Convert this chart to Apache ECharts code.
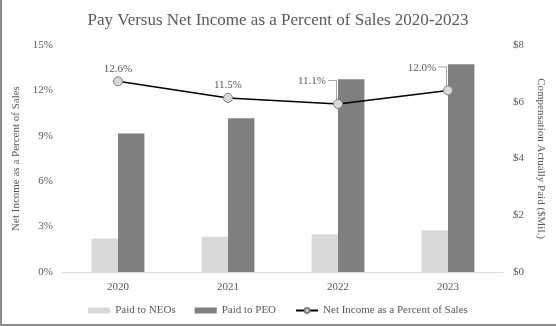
<!DOCTYPE html>
<html>
<head>
<meta charset="utf-8">
<script src="https://cdn.jsdelivr.net/npm/echarts@6/dist/echarts.min.js"></script>
<style>
  html, body { margin: 0; padding: 0; background: #fff; }
  #wrap { position: relative; width: 556px; height: 326px; }
  #chart { width: 556px; height: 326px; }
  #frame {
    position: absolute; left: 0; top: 0; width: 556px; height: 326px;
    box-sizing: border-box; border-left: 2px solid #8c8c8c; border-bottom: 2px solid #8c8c8c;
    pointer-events: none;
  }
</style>
</head>
<body>
<div id="wrap">
  <div id="chart"></div>
  <div id="frame"></div>
</div>
<script>
// 数据
const years = ['2020', '2021', '2022', '2023'];
const paidToNEOs = [1.18, 1.24, 1.33, 1.47];
const paidToPEO = [4.88, 5.42, 6.79, 7.32];
const netIncomePct = [12.6, 11.5, 11.1, 12.0];
const pctTicks = [0, 3, 6, 9, 12, 15];
const payTicks = [0, 2, 4, 6, 8];
// 带引导线的数据点（标签放在左上方）
const leaderIdx = [2, 3];

const FONT = '"Liberation Serif", "DejaVu Serif", serif';
const TEXT = '#595959';

const chart = echarts.init(document.getElementById('chart'), null, { renderer: 'canvas' });

chart.setOption({
  animation: false,
  backgroundColor: '#fff',
  textStyle: { fontFamily: FONT, color: TEXT },
  title: {
    text: 'Pay Versus Net Income as a Percent of Sales 2020-2023',
    left: 'center',
    top: 7,
    textStyle: { fontFamily: FONT, fontSize: 17, fontWeight: 'normal', color: TEXT }
  },
  grid: { left: 63, right: 53, top: 45, bottom: 54 },
  legend: {
    bottom: 5,
    left: 'center',
    itemWidth: 22,
    itemHeight: 6,
    itemGap: 19,
    textStyle: { fontFamily: FONT, fontSize: 11, color: TEXT },
    data: [
      { name: 'Paid to NEOs', icon: 'rect' },
      { name: 'Paid to PEO', icon: 'rect' },
      { name: 'Net Income as a Percent of Sales' }
    ]
  },
  xAxis: {
    type: 'category',
    data: years,
    axisLine: { lineStyle: { color: '#d9d9d9' } },
    axisTick: { show: false },
    axisLabel: { fontFamily: FONT, fontSize: 11, color: TEXT, margin: 10 }
  },
  yAxis: [
    {
      type: 'value',
      min: 0, max: 15, interval: 3,
      name: 'Net Income as a Percent of Sales',
      nameLocation: 'middle',
      nameRotate: 90,
      nameGap: 38,
      nameTextStyle: { fontFamily: FONT, fontSize: 11, color: TEXT },
      splitLine: { show: false },
      axisLine: { show: false },
      axisTick: { show: false },
      axisLabel: {
        fontFamily: FONT, fontSize: 11, color: TEXT, margin: 10,
        formatter: v => pctTicks.includes(v) ? v + '%' : ''
      }
    },
    {
      type: 'value',
      min: 0, max: 8, interval: 2,
      name: 'Compensation Actually Paid ($Mil.)',
      nameLocation: 'middle',
      nameRotate: -90,
      nameGap: 30,
      nameTextStyle: { fontFamily: FONT, fontSize: 11, color: TEXT },
      splitLine: { show: false },
      axisLine: { show: false },
      axisTick: { show: false },
      axisLabel: {
        fontFamily: FONT, fontSize: 11, color: TEXT, margin: 10,
        formatter: v => payTicks.includes(v) ? '$' + v : ''
      }
    }
  ],
  series: [
    {
      name: 'Paid to NEOs',
      type: 'bar',
      yAxisIndex: 1,
      data: paidToNEOs,
      barGap: '0%',
      barCategoryGap: '52%',
      itemStyle: { color: '#d9d9d9' }
    },
    {
      name: 'Paid to PEO',
      type: 'bar',
      yAxisIndex: 1,
      data: paidToPEO,
      barGap: '0%',
      barCategoryGap: '52%',
      itemStyle: { color: '#7f7f7f' }
    },
    {
      // 引导线：从标签右端水平再垂直到数据点
      type: 'custom',
      yAxisIndex: 0,
      z: 3,
      silent: true,
      data: leaderIdx.map(i => [i, netIncomePct[i]]),
      renderItem: (params, api) => {
        const p = api.coord([api.value(0), api.value(1)]);
        return {
          type: 'polyline',
          shape: { points: [[p[0] - 10, p[1] - 23.5], [p[0] - 1.5, p[1] - 23.5], [p[0] - 1.5, p[1] - 4]] },
          style: { stroke: '#a6a6a6', lineWidth: 1, fill: null }
        };
      }
    },
    {
      name: 'Net Income as a Percent of Sales',
      type: 'line',
      yAxisIndex: 0,
      z: 5,
      symbol: 'circle',
      symbolSize: 9,
      lineStyle: { color: '#000', width: 1.5 },
      itemStyle: { color: '#d9d9d9', borderColor: '#7f7f7f', borderWidth: 1 },
      data: netIncomePct.map((v, i) => ({
        value: v,
        label: {
          show: true,
          position: 'top',
          distance: 2,
          offset: leaderIdx.includes(i) ? [-26, -10] : [0, 0],
          formatter: v.toFixed(1) + '%',
          fontFamily: FONT, fontSize: 11, color: TEXT
        }
      }))
    }
  ]
});
</script>
</body>
</html>
